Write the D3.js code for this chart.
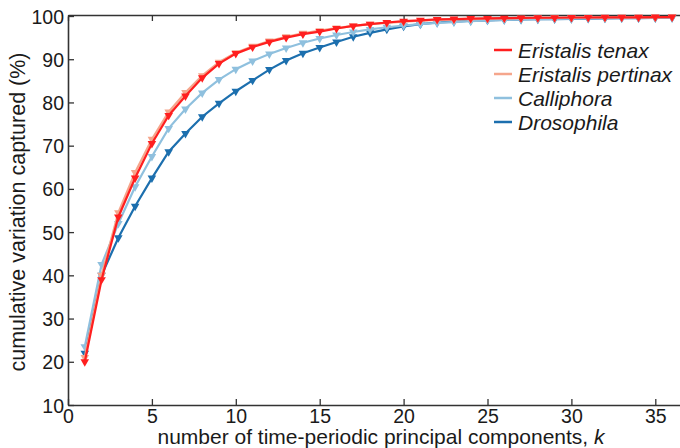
<!DOCTYPE html>
<html>
<head>
<meta charset="utf-8">
<script src="https://cdn.jsdelivr.net/npm/d3@7"></script>
<style>
  body { margin: 0; background: #fff; }
  svg { display: block; font-family: "Liberation Sans", Arial, sans-serif; }
</style>
</head>
<body>
<div id="chart"></div>
<script>
// k = 1..36
const components = d3.range(1, 37);

const tenax = [20, 39, 53.5, 62.5, 70.5, 77, 81.5, 85.7, 89, 91.3, 92.8, 94, 95, 95.8, 96.4, 97.1,
  97.7, 98.1, 98.5, 98.8, 99, 99.2, 99.3, 99.4, 99.45, 99.5, 99.55, 99.6, 99.6, 99.65, 99.65, 99.7,
  99.7, 99.7, 99.75, 99.75];
const pertinax = [21, 40, 54.5, 63.8, 71.5, 77.8, 82.3, 86.2, 89.3, 91.5, 93, 94.2, 95.2, 96, 96.6, 97.2,
  97.7, 98.1, 98.4, 98.7, 98.9, 99.1, 99.2, 99.3, 99.4, 99.45, 99.5, 99.55, 99.6, 99.6, 99.65, 99.65,
  99.7, 99.7, 99.7, 99.75];
const calliphora = [23.5, 42.5, 52, 60.5, 67.5, 74, 78.5, 82.2, 85.3, 87.7, 89.6, 91.2, 92.6, 93.8, 94.8, 95.6,
  96.3, 96.9, 97.4, 97.8, 98.1, 98.4, 98.6, 98.8, 99, 99.1, 99.2, 99.3, 99.35, 99.4, 99.45, 99.5,
  99.5, 99.55, 99.6, 99.6];
const drosophila = [22, 40, 48.7, 56, 62.5, 68.6, 72.8, 76.7, 79.8, 82.6, 85.1, 87.6, 89.7, 91.4, 92.7, 94,
  95.2, 96.1, 96.9, 97.6, 98.1, 98.5, 98.7, 98.9, 99, 99.1, 99.2, 99.25, 99.3, 99.35, 99.4, 99.45,
  99.5, 99.5, 99.55, 99.6];

const seriesNames = ["Eristalis tenax", "Eristalis pertinax", "Calliphora", "Drosophila"];
const seriesColors = ["#ff1f1f", "#f5a68c", "#8fc0de", "#1c6fae"];
const seriesValues = [tenax, pertinax, calliphora, drosophila];

const xTicks = [0, 5, 10, 15, 20, 25, 30, 35];
const yTicks = [10, 20, 30, 40, 50, 60, 70, 80, 90, 100];

const width = 680, height = 448;
const margin = { top: 16, left: 68, bottom: 43 };

const svg = d3.select("#chart").append("svg")
  .attr("width", width)
  .attr("height", height);

const x = d3.scaleLinear().domain([0, 37]).range([margin.left, margin.left + 37 * 16.78]);
const y = d3.scaleLinear().domain([10, 100]).range([height - margin.bottom, margin.top]);

const axisColor = "#333";

// 坐标轴
const gx = svg.append("g")
  .attr("transform", `translate(0,${y(10)})`)
  .call(d3.axisBottom(x).tickValues(xTicks).tickSizeInner(-6).tickSizeOuter(0).tickPadding(4));
const gxTop = svg.append("g")
  .attr("transform", `translate(0,${y(100) - 1})`)
  .call(d3.axisTop(x).tickValues(xTicks).tickSizeInner(-6).tickSizeOuter(0).tickFormat(""));
const gy = svg.append("g")
  .attr("transform", `translate(${x(0)},0)`)
  .call(d3.axisLeft(y).tickValues(yTicks).tickSizeInner(-6).tickSizeOuter(0).tickPadding(4));

[gx, gxTop, gy].forEach(g => {
  g.select(".domain").attr("stroke", axisColor).attr("stroke-width", 1.6);
  g.selectAll(".tick line").attr("stroke", axisColor).attr("stroke-width", 1.3);
  g.selectAll(".tick text").attr("fill", "#1a1a1a").style("font-size", "19.5px");
});
gx.selectAll(".tick text").attr("dy", "0.7em");
gy.selectAll(".tick text").attr("dy", "0.36em");

// 折线
const line = d3.line()
  .x((d, i) => x(components[i]))
  .y(d => y(d));

const tri = d3.symbol().type(d3.symbolTriangle).size(32);

// 从下往上画，红色在最上层
for (let s = seriesValues.length - 1; s >= 0; s--) {
  const g = svg.append("g");
  g.append("path")
    .datum(seriesValues[s])
    .attr("fill", "none")
    .attr("stroke", seriesColors[s])
    .attr("stroke-width", 2.2)
    .attr("d", line);
  g.selectAll("path.mk")
    .data(seriesValues[s])
    .enter()
    .append("path")
    .attr("class", "mk")
    .attr("d", tri)
    .attr("fill", seriesColors[s])
    .attr("transform", (d, i) => `translate(${x(components[i])},${y(d)}) rotate(180)`);
}

// 图例
const legend = svg.append("g").attr("transform", "translate(494,50)");
seriesNames.forEach((name, i) => {
  legend.append("line")
    .attr("x1", 0).attr("x2", 18)
    .attr("y1", i * 24).attr("y2", i * 24)
    .attr("stroke", seriesColors[i])
    .attr("stroke-width", 2.5);
  legend.append("text")
    .attr("x", 24)
    .attr("y", i * 24)
    .attr("dy", "0.36em")
    .style("font-size", "21px")
    .style("font-style", "italic")
    .attr("fill", "#1a1a1a")
    .text(name);
});

// 轴标题
const xLabel = svg.append("text")
  .attr("x", 381)
  .attr("y", 444)
  .attr("text-anchor", "middle")
  .style("font-size", "21px")
  .attr("fill", "#1a1a1a")
  .text("number of time-periodic principal components, ");
xLabel.append("tspan").style("font-style", "italic").text("k");

svg.append("text")
  .attr("transform", `translate(25,${212}) rotate(-90)`)
  .attr("text-anchor", "middle")
  .style("font-size", "21.5px")
  .attr("fill", "#1a1a1a")
  .text("cumulative variation captured (%)");
</script>
</body>
</html>
